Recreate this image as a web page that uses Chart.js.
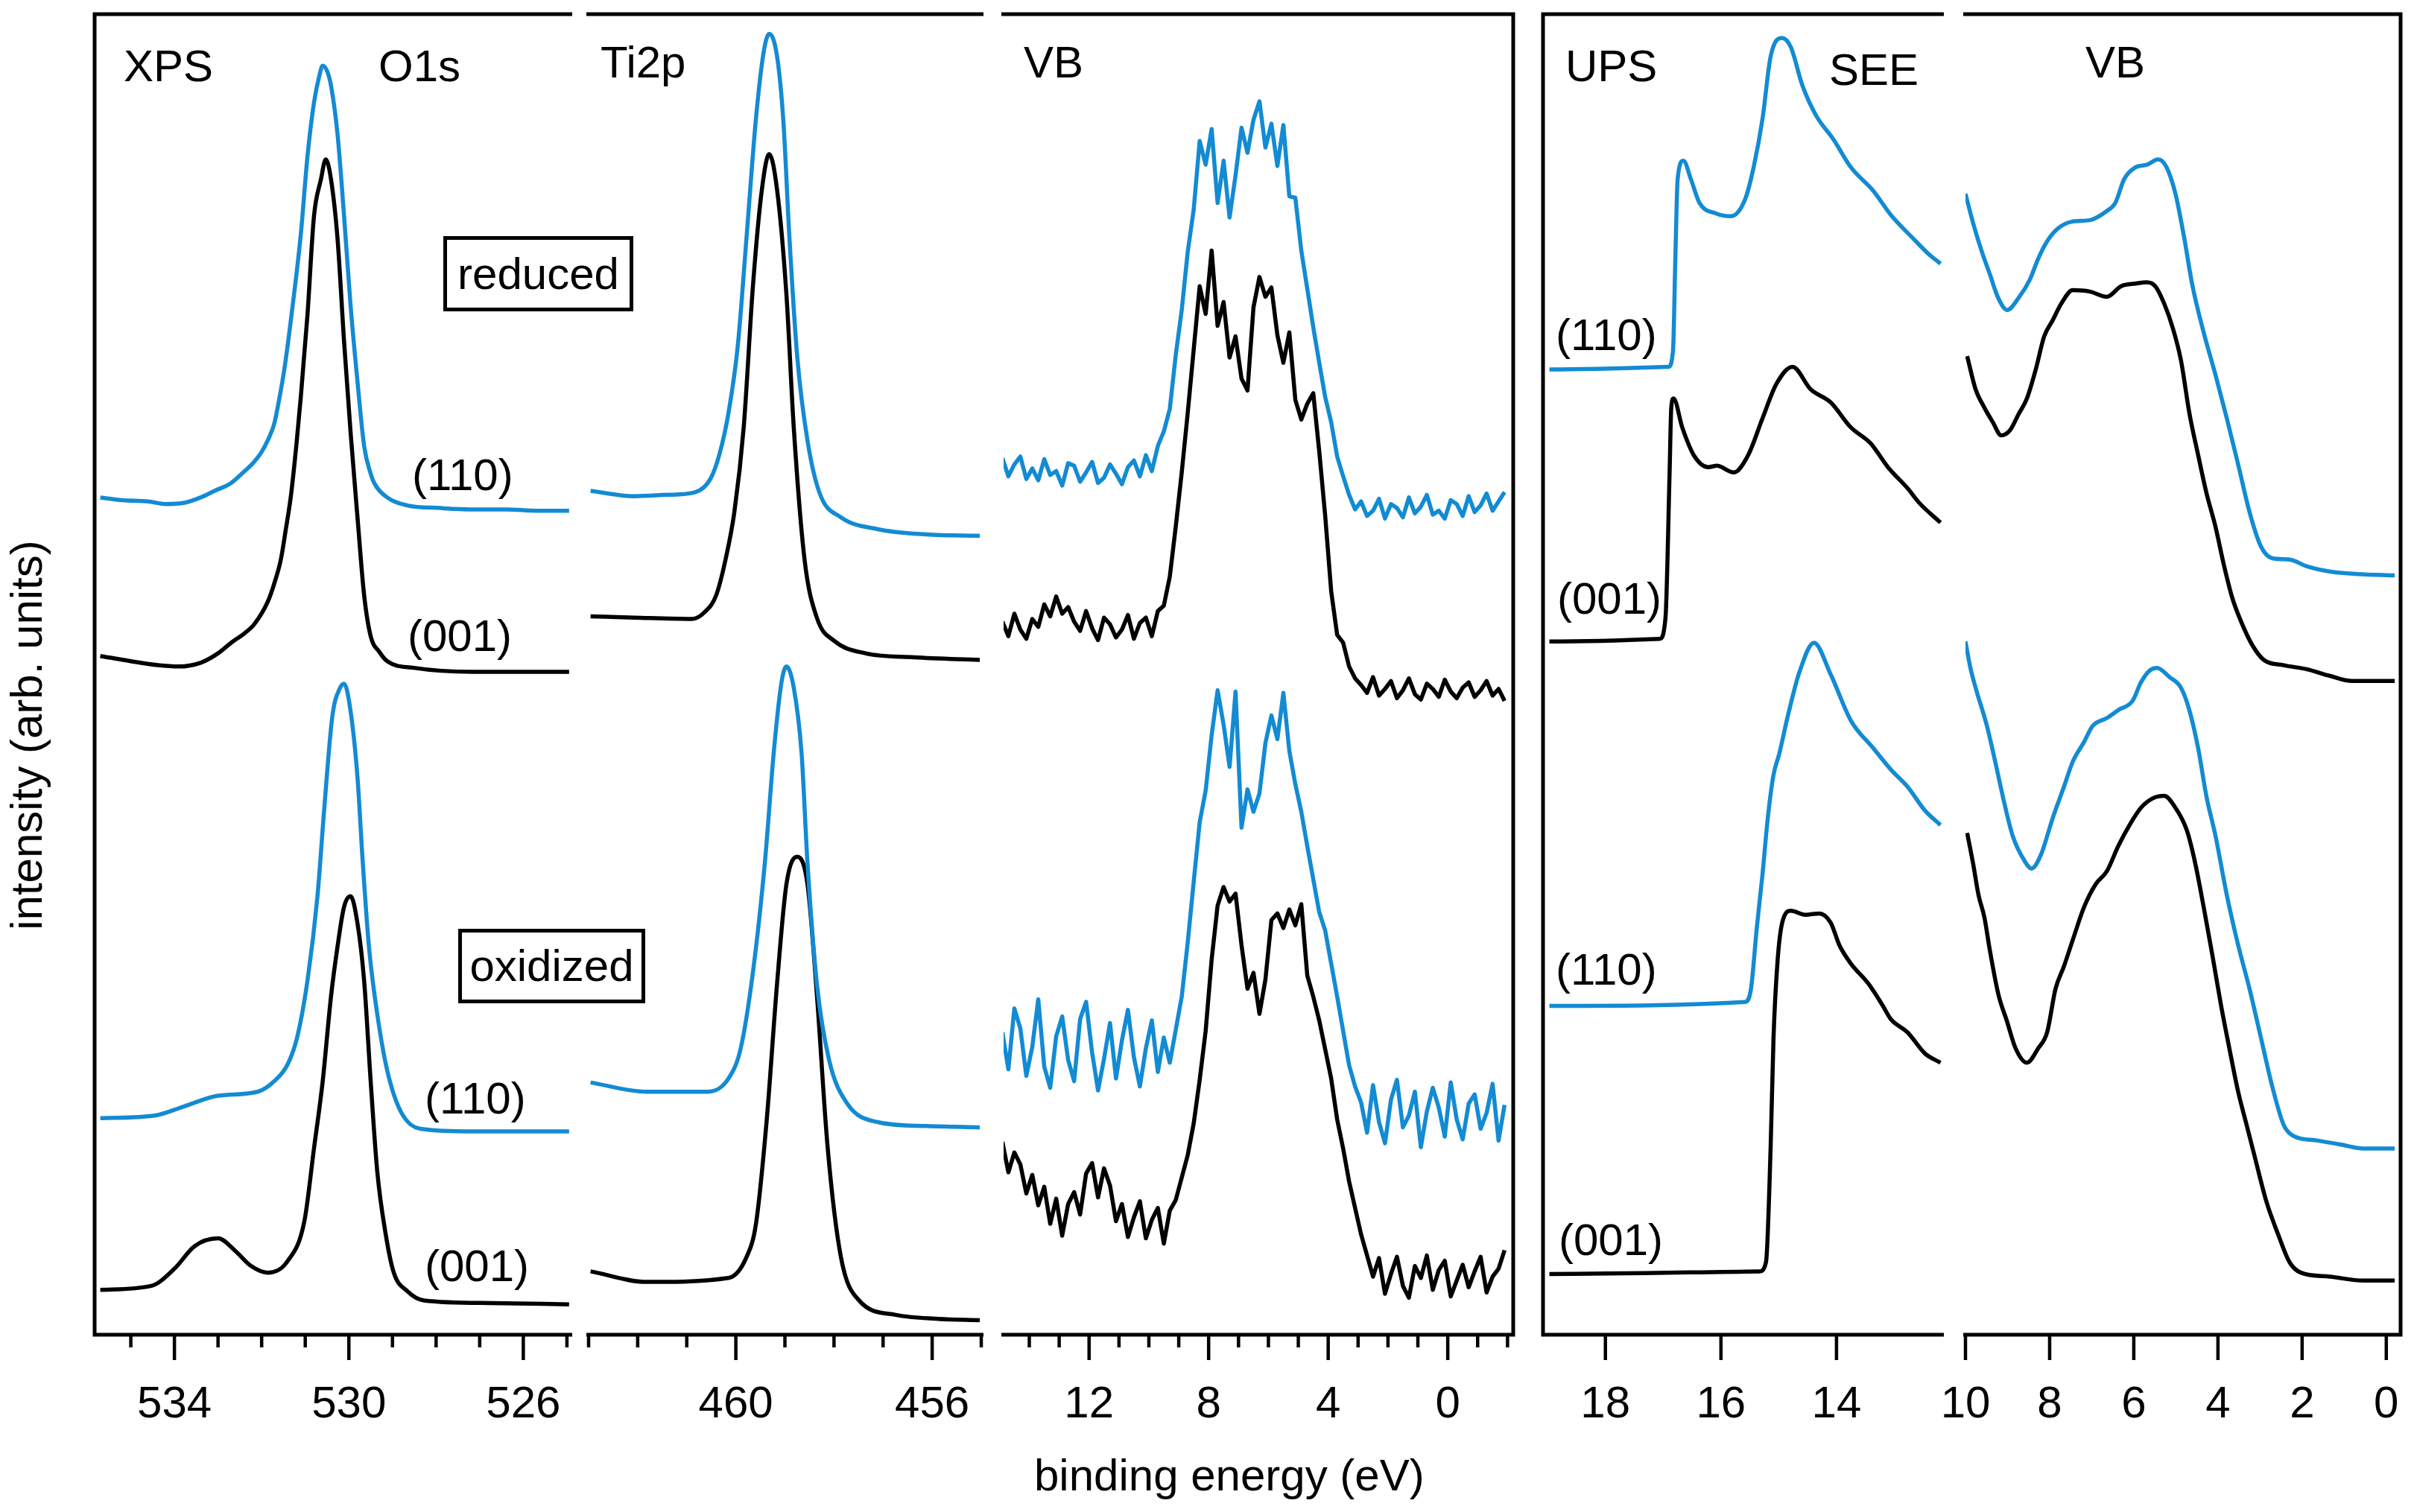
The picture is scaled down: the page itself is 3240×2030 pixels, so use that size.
<!DOCTYPE html>
<html>
<head>
<meta charset="utf-8">
<script src="https://cdn.jsdelivr.net/npm/chart.js@4.4.1/dist/chart.umd.min.js"></script>
<style>
  body { margin:0; width:3240px; height:2030px; background:#fff; position:relative; overflow:hidden;
         font-family:"Liberation Sans", Arial, sans-serif; color:#000; }
  canvas { position:absolute; top:0; }
  .lbl { position:absolute; font-size:60px; line-height:60px; white-space:nowrap; }
  .box { position:absolute; border:5px solid #000; box-sizing:border-box; display:flex;
         align-items:center; justify-content:center; font-size:60px; line-height:60px; }
  #ytitle { position:absolute; width:700px; height:60px; left:-314px; top:957px; text-align:center;
            font-size:60px; line-height:60px; transform:rotate(-90deg); }
</style>
</head>
<body>
<div class="box" style="left:595px;top:317px;width:255px;height:101px;">reduced</div>
<div class="box" style="left:615px;top:1247px;width:251px;height:100px;">oxidized</div>
<div class="lbl" style="left:1388px;top:1951px;">binding energy (eV)</div>
<div id="ytitle">intensity (arb. units)</div>

<script>
// ---------- data (energy in eV, intensity in arb. units, offsets included) ----------
// XPS O1s
var o1sRed110E = [535.7,535.2,534.6,534.2,533.77,533.4,533.08,532.7,532.39,532.2,532.01,531.85,531.71,531.6,531.48,531.29,531.1,530.95,530.8,530.68,530.6,530.5,530.41,530.26,530.11,529.96,529.8,529.65,529.5,529.42,529.12,528.66,527.9,527.2,526.38,525.7,524.95];
var o1sRed110I = [63.4,63.2,63.1,62.9,63.0,63.4,63.9,64.5,65.4,66.0,66.8,67.8,69.0,70.8,73.1,77.9,83.4,89.2,93.3,95.3,96.1,95.7,94.6,90.9,84.7,77.9,72.1,67.3,65.2,64.5,63.4,62.8,62.6,62.5,62.5,62.4,62.4];
var o1sRed001E = [535.7,535.0,534.38,533.9,533.39,533.0,532.7,532.4,532.17,531.86,531.7,531.56,531.45,531.33,531.2,531.1,530.95,530.8,530.64,530.53,530.41,530.26,530.11,529.96,529.8,529.65,529.5,529.3,529.12,528.51,527.14,524.95];
var o1sRed001I = [51.4,51.0,50.7,50.6,50.9,51.6,52.4,53.1,53.8,55.5,57.0,58.7,60.9,63.5,67.5,71.1,77.2,84.7,87.5,89.0,87.5,83.0,75.2,68.3,61.8,56.0,52.9,51.7,51.0,50.5,50.2,50.2];
var o1sOx110E = [535.7,534.45,533.77,533.0,532.09,531.71,531.4,531.18,530.95,530.72,530.57,530.38,530.2,530.11,529.96,529.8,529.69,529.54,529.35,529.12,528.81,528.36,527.14,524.95];
var o1sOx110I = [16.4,16.6,17.3,18.1,18.4,19.2,20.5,22.6,26.8,33.2,39.6,46.8,49.0,49.3,47.2,42.1,36.2,29.4,24.3,20.0,16.9,15.6,15.4,15.4];
var o1sOx001E = [535.7,534.53,534.0,533.54,533.0,532.62,532.24,531.86,531.4,531.02,530.8,530.6,530.41,530.26,530.11,529.96,529.8,529.65,529.5,529.35,529.16,528.97,528.66,528.28,526.76,524.95];
var o1sOx001I = [3.4,3.7,5.0,6.7,7.3,6.4,5.2,4.7,5.6,8.6,14.1,19.2,25.6,29.4,32.4,33.2,31.1,26.8,19.2,12.4,7.7,4.7,3.3,2.6,2.4,2.3];

// XPS Ti2p
var ti2pRed110E = [462.96,462.07,461.4,460.83,460.52,460.34,460.15,459.96,459.78,459.59,459.43,459.32,459.16,459.03,458.91,458.75,458.54,458.29,457.86,457.11,456.12,455.03];
var ti2pRed110I = [63.9,63.5,63.6,63.8,64.8,66.6,69.8,74.9,83.2,92.1,97.2,98.5,96.8,91.8,83.2,74.1,67.7,63.7,61.9,61.0,60.6,60.5];
var ti2pRed001E = [462.96,462.07,460.89,460.64,460.4,460.21,460.03,459.84,459.65,459.47,459.32,459.16,458.97,458.82,458.6,458.35,457.98,457.36,456.37,455.03];
var ti2pRed001I = [54.4,54.3,54.2,54.7,56.0,58.7,62.3,68.7,79.5,86.7,89.4,86.7,78.8,68.7,58.7,54.3,52.5,51.6,51.3,51.1];
var ti2pOx110E = [462.96,461.82,460.58,460.15,459.9,459.65,459.41,459.22,459.07,458.97,458.82,458.66,458.54,458.35,458.1,457.73,457.11,456.12,455.03];
var ti2pOx110I = [19.1,18.4,18.4,19.4,21.7,27.5,35.7,44.4,49.4,50.6,49.0,44.0,35.7,26.6,20.8,17.5,16.1,15.8,15.7];
var ti2pOx001E = [462.96,461.82,460.15,459.78,459.59,459.37,459.16,458.97,458.75,458.54,458.35,458.13,457.86,457.49,456.74,455.88,455.03];
var ti2pOx001I = [4.8,4.0,4.3,5.9,8.4,16.3,26.6,34.1,36.2,34.1,25.8,14.2,5.9,2.6,1.5,1.2,1.1];

// XPS valence band (shared energy grid)
var vbxE = [14.9,14.7,14.5,14.3,14.1,13.9,13.7,13.5,13.3,13.1,12.9,12.7,12.5,12.3,12.1,11.9,11.7,11.5,11.3,11.1,
            10.9,10.7,10.5,10.3,10.1,9.9,9.7,9.5,9.3,9.1,8.9,8.7,8.5,8.3,8.1,7.9,7.7,7.5,7.3,7.1,
            6.9,6.7,6.5,6.3,6.1,5.9,5.7,5.5,5.3,5.1,4.9,4.7,4.5,4.3,4.1,3.9,3.7,3.5,3.3,3.1,
            2.9,2.7,2.5,2.3,2.1,1.9,1.7,1.5,1.3,1.1,0.9,0.7,0.5,0.3,0.1,-0.1,-0.3,-0.5,-0.7,-0.9,
            -1.1,-1.3,-1.5,-1.7,-1.9];
var vbxRed110I = [66.4,65.0,65.9,66.5,64.8,65.6,64.7,66.3,65.1,65.4,64.3,66.0,65.8,64.6,65.3,66.1,64.5,64.9,65.9,65.2,
                  64.4,65.7,66.2,65.0,66.6,65.4,67.3,68.4,70.1,74.2,77.6,82.0,85.2,90.4,88.6,91.3,85.7,88.9,84.6,87.8,
                  91.4,89.5,92.0,93.4,89.9,91.7,88.5,91.6,86.2,86.1,82.1,79.2,76.3,73.6,71.0,69.1,66.5,65.0,63.6,62.5,
                  63.1,62.0,62.4,63.3,61.8,62.9,62.6,61.9,63.4,62.2,62.7,63.6,62.1,62.4,61.8,63.2,62.9,62.0,63.5,62.3,
                  62.8,63.7,62.4,63.1,63.8];
var vbxRed001I = [54.0,52.9,54.6,53.4,52.7,54.2,53.6,55.3,54.4,55.9,54.6,55.1,54.0,53.3,54.8,53.5,52.6,54.3,53.8,52.8,
                  53.4,54.5,52.7,53.9,54.3,52.9,54.8,55.2,57.4,61.2,65.3,69.8,74.6,79.4,77.3,82.1,76.4,78.2,74.0,75.6,
                  72.4,71.5,77.8,80.1,78.6,79.3,75.7,73.6,75.9,70.8,69.3,70.5,71.3,66.9,62.0,56.3,53.0,52.4,50.6,49.7,
                  49.2,48.6,49.8,48.4,48.9,49.5,48.2,48.8,49.7,48.5,48.1,49.3,48.9,48.3,49.6,48.7,48.2,49.0,49.4,48.3,
                  48.8,49.5,48.4,48.9,48.0];
var vbxOx110I = [22.9,20.1,24.7,23.2,19.6,21.8,25.4,20.3,18.7,22.6,24.1,20.8,19.2,23.9,25.2,21.4,18.5,20.9,23.6,19.4,
                 22.3,24.6,21.0,18.8,21.7,23.8,19.9,22.5,20.6,23.1,25.6,29.7,34.3,38.8,41.2,45.4,48.8,46.2,43.0,48.7,
                 38.4,41.3,39.6,41.0,44.8,46.9,45.1,48.6,44.2,41.7,39.6,37.0,34.5,32.0,30.6,28.1,25.6,23.0,20.4,18.8,
                 17.6,15.3,18.9,16.1,14.5,17.8,19.3,15.7,16.6,18.4,14.2,16.9,18.7,17.2,15.0,19.1,16.3,14.8,17.5,18.2,
                 15.6,16.8,19.0,14.7,17.4];
var vbxOx001I = [14.6,12.3,13.8,12.9,10.7,12.1,9.8,11.2,8.4,10.3,7.5,9.9,10.8,9.1,12.2,13.0,10.4,12.6,11.3,8.6,
                 9.9,7.4,8.9,10.1,7.3,8.7,9.6,6.9,9.4,10.2,11.9,13.6,16.0,19.3,23.0,28.4,32.5,33.9,32.8,33.4,
                 29.5,26.2,27.4,24.3,26.9,31.4,31.9,30.8,32.2,31.0,32.6,27.2,25.6,23.8,21.6,19.4,16.3,14.1,11.6,9.6,
                 7.6,6.0,4.4,5.8,3.1,4.6,5.9,3.7,2.8,5.2,4.3,6.0,3.4,4.9,5.6,2.9,4.1,5.3,3.6,4.8,
                 5.9,3.2,4.4,5.0,6.4];

// UPS secondary electron edge
var seeRed110E = [18.97,16.91,16.83,16.79,16.75,16.65,16.52,16.37,16.08,15.83,15.58,15.43,15.28,15.14,14.94,14.79,14.59,14.35,14.05,13.75,13.36,13.06,12.67,12.42,12.2];
var seeRed110I = [73.1,73.3,74.5,81.4,87.5,88.9,87.5,85.7,84.9,84.7,86.0,88.5,92.1,96.8,98.2,97.5,94.6,92.3,90.5,88.4,86.6,84.8,83.0,81.9,81.1];
var seeRed001E = [18.97,17.06,16.96,16.89,16.86,16.82,16.67,16.47,16.22,16.07,15.78,15.53,15.28,15.04,14.76,14.45,14.1,13.75,13.41,13.11,12.77,12.57,12.2];
var seeRed001I = [52.5,52.7,54.3,65.1,70.2,70.9,68.7,66.6,65.7,65.8,65.3,66.6,69.4,72.0,73.3,71.6,70.6,68.7,67.5,65.7,64.1,63.0,61.5];
var seeOx110E = [18.97,15.58,15.48,15.38,15.28,15.19,15.09,14.99,14.84,14.64,14.39,14.1,13.75,13.36,13.06,12.77,12.47,12.2];
var seeOx110I = [24.9,25.2,26.2,30.8,34.9,39.1,42.4,44.0,46.9,50.2,52.4,50.0,46.5,44.4,42.8,41.5,39.7,38.6];
var seeOx001E = [18.97,15.33,15.22,15.14,15.09,15.02,14.94,14.79,14.54,14.3,14.1,13.95,13.75,13.45,13.21,13.06,12.77,12.47,12.2];
var seeOx001I = [4.6,4.8,5.5,14.2,22.5,28.3,31.2,32.1,31.8,31.9,31.2,29.5,28.1,26.6,25.0,23.9,22.9,21.3,20.6];

// UPS valence band
var vbuRed110E = [10.0,9.82,9.62,9.42,9.22,9.01,8.74,8.47,8.27,8.06,7.79,7.45,7.05,6.64,6.44,6.23,5.96,5.69,5.42,5.22,5.01,4.81,4.61,4.34,4.06,3.79,3.52,3.25,2.98,2.71,2.3,1.9,1.35,0.68,-0.2];
var vbuRed110I = [86.4,84.2,82.1,80.3,78.5,77.6,78.5,79.9,81.5,82.8,83.8,84.3,84.4,85.1,85.7,87.5,88.4,88.6,89.0,88.4,86.4,83.2,79.5,75.9,72.7,69.4,65.9,62.3,59.7,58.8,58.7,58.2,57.8,57.6,57.5];
var vbuRed001E = [9.96,9.76,9.55,9.35,9.15,8.94,8.74,8.54,8.33,8.13,7.93,7.72,7.45,7.05,6.64,6.3,5.96,5.69,5.49,5.28,5.08,4.88,4.68,4.47,4.27,4.06,3.86,3.66,3.45,3.18,2.91,2.44,1.9,1.35,0.81,-0.2];
var vbuRed001I = [74.1,71.6,70.2,69.1,68.1,68.5,69.7,70.9,73.1,75.6,76.8,78.1,79.1,79.0,78.6,79.4,79.6,79.7,79.4,78.1,76.3,73.8,69.8,66.6,63.7,61.2,58.3,55.8,54.0,52.2,51.1,50.7,50.4,49.9,49.5,49.5];
var vbuOx110E = [10.0,9.89,9.76,9.49,9.28,9.08,8.88,8.6,8.43,8.2,7.93,7.66,7.45,7.18,6.98,6.64,6.37,6.03,5.83,5.62,5.45,5.15,4.88,4.68,4.47,4.27,4.06,3.79,3.52,3.25,2.98,2.71,2.44,2.23,1.63,1.08,0.54,-0.2];
var vbuOx110I = [52.5,50.6,49.0,46.1,43.2,40.3,37.8,35.9,35.3,36.4,39.1,41.5,43.4,44.9,46.1,46.7,47.3,48.0,49.4,50.3,50.5,49.8,49.0,47.3,44.4,40.7,37.8,33.3,29.5,26.2,22.5,18.8,15.9,15.1,14.7,14.4,14.1,14.1];
var vbuOx001E = [9.96,9.82,9.69,9.55,9.42,9.22,9.01,8.81,8.54,8.27,8.06,7.86,7.66,7.45,7.18,6.91,6.64,6.37,6.1,5.83,5.56,5.28,5.01,4.74,4.54,4.34,4.13,3.93,3.73,3.52,3.32,3.12,2.85,2.57,2.3,2.03,1.35,0.54,-0.2];
var vbuOx001I = [38.0,35.7,33.3,31.6,29.1,25.8,23.7,21.7,20.6,21.7,22.9,26.2,27.9,29.9,32.4,34.1,35.1,37.0,38.6,39.9,40.6,40.8,39.9,38.2,35.7,32.4,28.7,25.0,21.7,18.4,15.9,13.4,10.1,7.6,5.5,4.7,4.4,4.1,4.1];

// ---------- styling / layout ----------
var BLUE = '#138bd3', BLACK = '#000000';
var PLOT_TOP = 19, AXIS_Y = 1792, PAGE_H = 2030, PAD = 60;

var panels = [
  { left:127,  right:765,  min:524.93, max:535.83, major:4, from:526, minor:true,  sideL:true,  sideR:false, smooth:true,
    series:[[o1sRed110E,o1sRed110I,BLUE],[o1sRed001E,o1sRed001I,BLACK],[o1sOx110E,o1sOx110I,BLUE],[o1sOx001E,o1sOx001I,BLACK]] },
  { left:790,  right:1317, min:455.0,  max:463.0,  major:4, from:456, minor:true,  sideL:false, sideR:false, smooth:true,
    series:[[ti2pRed110E,ti2pRed110I,BLUE],[ti2pRed001E,ti2pRed001I,BLACK],[ti2pOx110E,ti2pOx110I,BLUE],[ti2pOx001E,ti2pOx001I,BLACK]] },
  { left:1347, right:2031, min:-2.19,  max:14.86,  major:4, from:0,   minor:true,  sideL:false, sideR:true,  smooth:false,
    series:[[vbxE,vbxRed110I,BLUE],[vbxE,vbxRed001I,BLACK],[vbxE,vbxOx110I,BLUE],[vbxE,vbxOx001I,BLACK]] },
  { left:2071, right:2606, min:12.18,  max:19.08,  major:2, from:0,   minor:false, sideL:true,  sideR:false, smooth:true,
    series:[[seeRed110E,seeRed110I,BLUE],[seeRed001E,seeRed001I,BLACK],[seeOx110E,seeOx110I,BLUE],[seeOx001E,seeOx001I,BLACK]] },
  { left:2638, right:3222, min:-0.34,  max:10.0,   major:2, from:0,   minor:false, sideL:false, sideR:true,  smooth:true,
    series:[[vbuRed110E,vbuRed110I,BLUE],[vbuRed001E,vbuRed001I,BLACK],[vbuOx110E,vbuOx110I,BLUE],[vbuOx001E,vbuOx001I,BLACK]] }
];

var texts = [
  ['XPS',166,89], ['O1s',508,89], ['Ti2p',806,84], ['VB',1374,84],
  ['UPS',2101,89], ['SEE',2455,94], ['VB',2799,84],
  ['(110)',553,638], ['(001)',547,854], ['(110)',570,1475], ['(001)',570,1700],
  ['(110)',2088,450], ['(001)',2090,804], ['(110)',2088,1302], ['(001)',2092,1665]
];
texts.forEach(function(t){
  var d = document.createElement('div');
  d.className = 'lbl';
  d.textContent = t[0];
  d.style.left = t[1] + 'px';
  d.style.top = (t[2] - 30) + 'px';
  document.body.appendChild(d);
});

function isMajor(v, p) {
  var r = Math.round(v);
  if (Math.abs(v - r) > 1e-6) return false;
  return (((r - p.from) % p.major) + p.major) % p.major === 0;
}

// frame lines and tick marks, placed with the chart's own x scale
var framePlugin = {
  id: 'frame',
  afterDatasetsDraw: function(chart, args, p) {
    var a = chart.chartArea, ctx = chart.ctx, sx = chart.scales.x;
    ctx.save();
    ctx.strokeStyle = '#000';
    ctx.lineWidth = 5;
    var x0 = a.left - (p.sideL ? 2.5 : 3), x1 = a.right + (p.sideR ? 2.5 : 3);
    ctx.beginPath();
    ctx.moveTo(x0, a.top); ctx.lineTo(x1, a.top);
    ctx.moveTo(x0, a.bottom); ctx.lineTo(x1, a.bottom);
    if (p.sideL) { ctx.moveTo(a.left, a.top); ctx.lineTo(a.left, a.bottom); }
    if (p.sideR) { ctx.moveTo(a.right, a.top); ctx.lineTo(a.right, a.bottom); }
    ctx.stroke();
    ctx.lineWidth = 4.5;
    ctx.beginPath();
    sx.ticks.forEach(function(t) {
      var maj = isMajor(t.value, p);
      if (!maj && !p.minor) return;
      var px = sx.getPixelForValue(t.value);
      ctx.moveTo(px, a.bottom);
      ctx.lineTo(px, a.bottom + (maj ? 34 : 17));
    });
    ctx.stroke();
    ctx.restore();
  }
};

panels.forEach(function(p) {
  var cv = document.createElement('canvas');
  var w = (p.right - p.left) + 2 * PAD;
  cv.width = w; cv.height = PAGE_H;
  cv.style.left = (p.left - PAD) + 'px';
  cv.style.width = w + 'px'; cv.style.height = PAGE_H + 'px';
  document.body.appendChild(cv);

  var sets = p.series.map(function(s) {
    return {
      data: s[0].map(function(e, i) { return { x: e, y: s[1][i] }; }),
      borderColor: s[2],
      borderWidth: 5.5,
      borderJoinStyle: 'round',
      pointRadius: 0,
      fill: false,
      tension: 0,
      cubicInterpolationMode: p.smooth ? 'monotone' : 'default'
    };
  });

  new Chart(cv.getContext('2d'), {
    type: 'line',
    data: { datasets: sets },
    options: {
      responsive: false,
      animation: false,
      devicePixelRatio: 1,
      layout: { padding: { left: PAD, right: PAD, top: PLOT_TOP, bottom: 0 } },
      plugins: { legend: { display: false }, tooltip: { enabled: false }, frame: p },
      scales: {
        x: {
          type: 'linear', reverse: true, min: p.min, max: p.max, bounds: 'data',
          grid: { display: false }, border: { display: false },
          afterFit: function(scale) { scale.height = PAGE_H - AXIS_Y; },
          // one tick per whole eV inside the range; labels only on the major ones
          afterBuildTicks: function(scale) {
            var list = [];
            for (var v = Math.ceil(p.min); v <= Math.floor(p.max); v++) list.push({ value: v });
            scale.ticks = list;
          },
          ticks: {
            autoSkip: false, maxRotation: 0, minRotation: 0,
            padding: 50, color: '#000',
            font: { family: '"Liberation Sans", Arial, sans-serif', size: 60, lineHeight: 1.2 },
            callback: function(v) { return isMajor(v, p) ? String(Math.round(v)) : ''; }
          }
        },
        y: { display: false, min: 0, max: 100 }
      }
    },
    plugins: [framePlugin]
  });
});
</script>
</body>
</html>
